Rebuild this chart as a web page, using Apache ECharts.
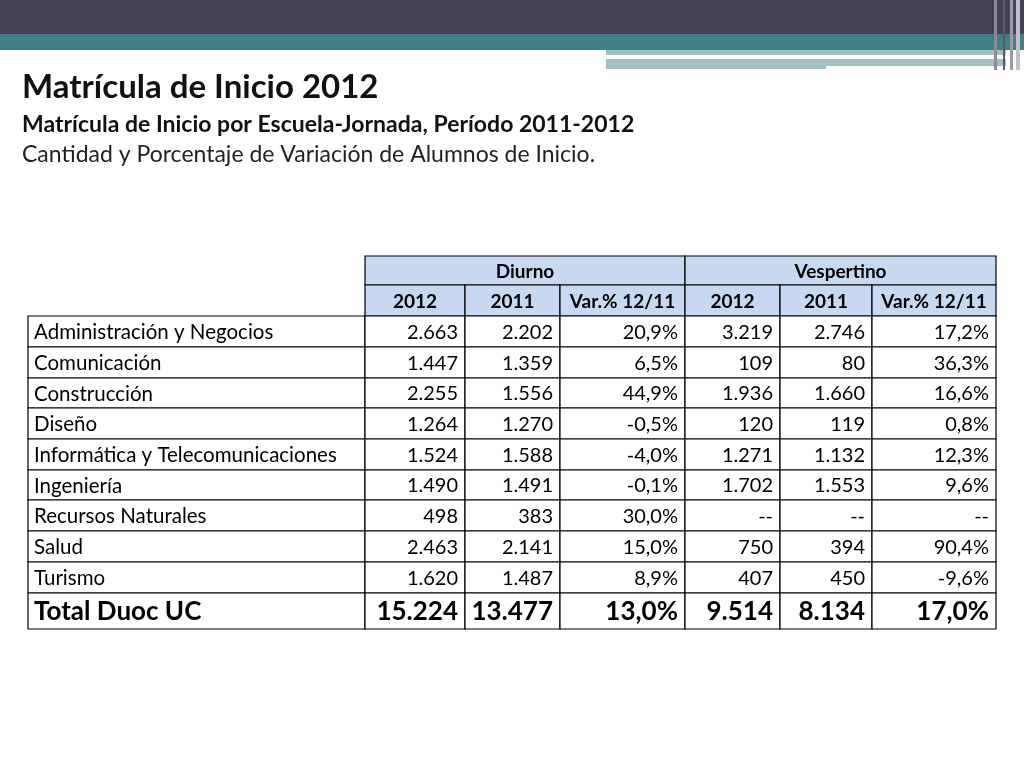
<!DOCTYPE html>
<html><head><meta charset="utf-8">
<script src="https://cdn.jsdelivr.net/npm/echarts@6/dist/echarts.min.js"></script>
<style>html,body{margin:0;padding:0;background:#fff}#c{width:1024px;height:768px}</style>
</head><body><div id="c"></div>
<script>
const groups = ['Diurno', 'Vespertino'];
const subHeaders = ['2012', '2011', 'Var.% 12/11', '2012', '2011', 'Var.% 12/11'];
const categories = ['Administración y Negocios','Comunicación','Construcción','Diseño','Informática y Telecomunicaciones','Ingeniería','Recursos Naturales','Salud','Turismo'];
const diurno2012 = ['2.663','1.447','2.255','1.264','1.524','1.490','498','2.463','1.620'];
const diurno2011 = ['2.202','1.359','1.556','1.270','1.588','1.491','383','2.141','1.487'];
const diurnoVar = ['20,9%','6,5%','44,9%','-0,5%','-4,0%','-0,1%','30,0%','15,0%','8,9%'];
const vesp2012 = ['3.219','109','1.936','120','1.271','1.702','--','750','407'];
const vesp2011 = ['2.746','80','1.660','119','1.132','1.553','--','394','450'];
const vespVar = ['17,2%','36,3%','16,6%','0,8%','12,3%','9,6%','--','90,4%','-9,6%'];
const totalLabel = 'Total Duoc UC';
const totals = ['15.224','13.477','13,0%','9.514','8.134','17,0%'];

// layout (not data)
const colEdges = [0,337,437,532,657,752,844,968];
const rowEdges = [0,29,60,91,122,152,183,214,244,275,306,337,373];
const FONT = 'Lato, "Open Sans", sans-serif';

const cells = [];
groups.forEach((g,i)=>cells.push({c0:1+i*3,c1:4+i*3,r:0,text:g,kind:'h'}));
subHeaders.forEach((h,i)=>cells.push({c0:1+i,c1:2+i,r:1,text:h,kind:'h'}));
const cols = [diurno2012,diurno2011,diurnoVar,vesp2012,vesp2011,vespVar];
categories.forEach((cat,r)=>{
  cells.push({c0:0,c1:1,r:r+2,text:cat,kind:'l'});
  cols.forEach((arr,i)=>cells.push({c0:1+i,c1:2+i,r:r+2,text:arr[r],kind:'n'}));
});
const tr = categories.length+2;
cells.push({c0:0,c1:1,r:tr,text:totalLabel,kind:'tl'});
totals.forEach((t,i)=>cells.push({c0:1+i,c1:2+i,r:tr,text:t,kind:'tn'}));

const chart = echarts.init(document.getElementById('c'));
chart.setOption({
  animation:false,
  grid:{left:28,top:256,width:968,height:373},
  xAxis:{type:'value',min:0,max:968,show:false},
  yAxis:{type:'value',min:0,max:373,inverse:true,show:false},
  graphic:[
    {type:'rect',shape:{x:0,y:0,width:1024,height:34},style:{fill:'#444356'}},
    {type:'rect',shape:{x:0,y:34,width:1024,height:16},style:{fill:'#437f83'}},
    {type:'rect',shape:{x:606,y:50,width:400,height:5},style:{fill:'#a3bfc1'}},
    {type:'rect',shape:{x:606,y:59,width:400,height:10},style:{fill:'#a3bfc1'}},
    {type:'rect',shape:{x:826,y:66,width:180,height:4},style:{fill:'#fff'}},
    {type:'rect',shape:{x:994,y:0,width:3,height:70},style:{fill:'#8a8a98'}},
    {type:'rect',shape:{x:1003,y:0,width:2,height:70},style:{fill:'#5b5a6a'}},
    {type:'rect',shape:{x:1010,y:0,width:3,height:70},style:{fill:'#9a9aa6'}},
    {type:'rect',shape:{x:1016,y:0,width:4,height:70},style:{fill:'#c0c0c8'}},
    {type:'text',left:22,top:71,style:{text:'Matrícula de Inicio 2012',font:'bold 33px '+FONT,fill:'#111'}},
    {type:'text',left:22,top:113,style:{text:'Matrícula de Inicio por Escuela-Jornada, Período 2011-2012',font:'bold 23px '+FONT,fill:'#111'}},
    {type:'text',left:22,top:143,style:{text:'Cantidad y Porcentaje de Variación de Alumnos de Inicio.',font:'23px '+FONT,fill:'#222'}}
  ],
  series:[{
    type:'custom',
    data:cells.map((c,i)=>[i]),
    renderItem:(params,api)=>{
      const c = cells[api.value(0)];
      const p0 = api.coord([colEdges[c.c0], rowEdges[c.r]]);
      const p1 = api.coord([colEdges[c.c1], rowEdges[c.r+1]]);
      const w = p1[0]-p0[0], h = p1[1]-p0[1];
      let font='20px '+FONT, align='right', tx=p1[0]-7;
      if(c.kind==='h'){font='bold 19px '+FONT;align='center';tx=p0[0]+w/2;}
      if(c.kind==='l'){font='20.5px '+FONT;align='left';tx=p0[0]+6;}
      if(c.kind==='tl'){font='bold 26px '+FONT;align='left';tx=p0[0]+6;}
      if(c.kind==='tn'){font='bold 26px '+FONT;}
      return {type:'group',children:[
        {type:'rect',shape:{x:p0[0],y:p0[1],width:w,height:h},
         style:{fill:c.kind==='h'?'#c6d9f1':'#fff',stroke:'#000',lineWidth:1.2}},
        {type:'text',style:{x:tx,y:p0[1]+h/2+1,text:c.text,font:font,fill:'#000',align:align,verticalAlign:'middle'}}
      ]};
    }
  }]
});
</script></body></html>
